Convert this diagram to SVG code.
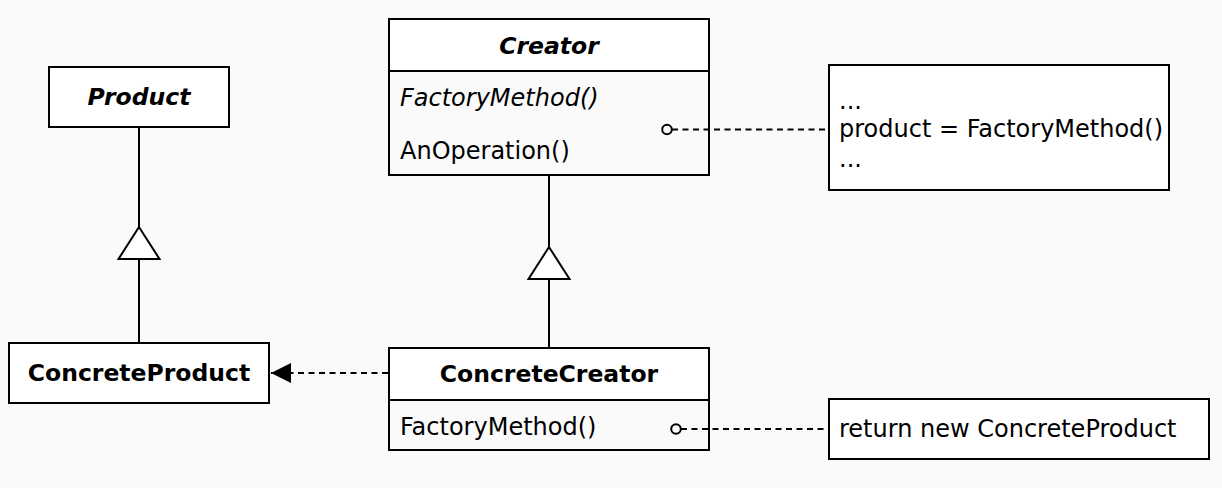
<svg xmlns="http://www.w3.org/2000/svg" width="1222" height="488" viewBox="0 0 1222 488">
  <defs>
    <style>
      text { font-family: "DejaVu Sans", Verdana, sans-serif; font-size: 24px; fill: #000; }
      .box { stroke: #000; stroke-width: 2; fill: #fff; }
      .comp { stroke: #000; stroke-width: 2; fill: none; }
      .line { stroke: #000; stroke-width: 2; fill: none; }
      .dash { stroke: #000; stroke-width: 1.8; fill: none; stroke-dasharray: 6 4.5; }
      .hollow { stroke: #000; stroke-width: 2; fill: #fff; }
      .title { font-weight: bold; text-anchor: middle; font-size: 23.5px; }
      .abstract { font-weight: bold; font-style: italic; text-anchor: middle; font-size: 23.5px; }
      .italic { font-style: italic; }
    </style>
    <marker id="arrowFilled" viewBox="0 0 20 20" refX="20" refY="10" markerWidth="20" markerHeight="20" markerUnits="userSpaceOnUse" orient="auto">
      <path d="M0,0 L20,10 L0,20 Z" fill="#000"/>
    </marker>
  </defs>

  <rect width="1222" height="488" fill="#fafafa"/>

  <!-- Connectors -->
  <g id="connectors">
    <!-- Product generalization -->
    <line class="line" x1="139" y1="127" x2="139" y2="227"/>
    <line class="line" x1="139" y1="259" x2="139" y2="343"/>
    <polygon class="hollow" points="139,227 118.5,259 159.5,259"/>
    <!-- Creator generalization -->
    <line class="line" x1="549" y1="175" x2="549" y2="247"/>
    <line class="line" x1="549" y1="279" x2="549" y2="348"/>
    <polygon class="hollow" points="549,247 528.5,279 569.5,279"/>
    <!-- ConcreteCreator creates ConcreteProduct -->
    <line class="dash" x1="388" y1="373" x2="271" y2="373" marker-end="url(#arrowFilled)"/>
    <!-- Note attachments -->
    <line class="dash" x1="672" y1="129.5" x2="828" y2="129.5"/>
    <circle cx="667" cy="129.5" r="4.8" fill="#fafafa" stroke="#000" stroke-width="2"/>
    <line class="dash" x1="681" y1="429" x2="828" y2="429"/>
    <circle cx="676" cy="429" r="4.8" fill="#fafafa" stroke="#000" stroke-width="2"/>
  </g>

  <g id="product">
    <rect class="box" x="49" y="67" width="180" height="60"/>
    <text class="abstract" x="139" y="105">Product</text>
  </g>

  <g id="concrete-product">
    <rect class="box" x="9" y="343" width="260" height="60"/>
    <text class="title" x="139" y="381">ConcreteProduct</text>
  </g>

  <g id="creator">
    <rect class="box" x="389" y="19" width="320" height="52"/>
    <rect class="comp" x="389" y="71" width="320" height="104"/>
    <text class="abstract" x="549" y="53.5">Creator</text>
    <text class="italic" x="400" y="106">FactoryMethod()</text>
    <text x="400" y="158.5">AnOperation()</text>
  </g>

  <g id="concrete-creator">
    <rect class="box" x="389" y="348" width="320" height="52"/>
    <rect class="comp" x="389" y="400" width="320" height="50"/>
    <text class="title" x="549" y="382">ConcreteCreator</text>
    <text x="400" y="435">FactoryMethod()</text>
  </g>

  <g id="note-operation">
    <rect class="box" x="829" y="65" width="340" height="125"/>
    <text x="839" y="109">...</text>
    <text x="839" y="137">product = FactoryMethod()</text>
    <text x="839" y="167">...</text>
  </g>

  <g id="note-factory">
    <rect class="box" x="829" y="399" width="380" height="60"/>
    <text x="839" y="437">return new ConcreteProduct</text>
  </g>
</svg>
